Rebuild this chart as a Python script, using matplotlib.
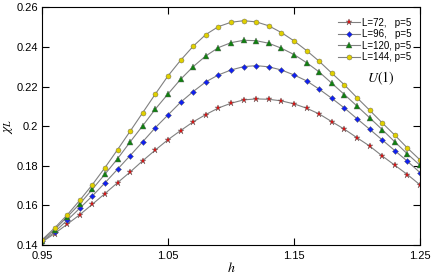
import numpy as np
import matplotlib
matplotlib.use('Agg')
import matplotlib.pyplot as plt

# data
h = [0.95, 0.96, 0.97, 0.98, 0.99, 1.00, 1.01, 1.02, 1.03, 1.04, 1.05,
     1.06, 1.07, 1.08, 1.09, 1.10, 1.11, 1.12, 1.13, 1.14, 1.15,
     1.16, 1.17, 1.18, 1.19, 1.20, 1.21, 1.22, 1.23, 1.24, 1.25]

chi_72 = [0.1415, 0.1458, 0.1505, 0.1553, 0.1606, 0.1660, 0.1715, 0.1769, 0.1826, 0.1880, 0.1932,
          0.1978, 0.2022, 0.2059, 0.2092, 0.2116, 0.2133, 0.2138, 0.2136, 0.2128, 0.2113,
          0.2091, 0.2062, 0.2023, 0.1985, 0.1942, 0.1900, 0.1850, 0.1803, 0.1756, 0.1704]
chi_96 = [0.1418, 0.1466, 0.1525, 0.1586, 0.1648, 0.1714, 0.1783, 0.1852, 0.1922, 0.1993, 0.2057,
          0.2121, 0.2175, 0.2224, 0.2259, 0.2284, 0.2301, 0.2306, 0.2300, 0.2284, 0.2259,
          0.2229, 0.2187, 0.2141, 0.2092, 0.2038, 0.1985, 0.1931, 0.1877, 0.1823, 0.1766]
chi_120 = [0.1422, 0.1478, 0.1542, 0.1608, 0.1682, 0.1758, 0.1836, 0.1921, 0.2003, 0.2087, 0.2163,
           0.2237, 0.2301, 0.2355, 0.2397, 0.2422, 0.2434, 0.2432, 0.2419, 0.2394, 0.2362,
           0.2321, 0.2274, 0.2217, 0.2160, 0.2102, 0.2043, 0.1983, 0.1921, 0.1860, 0.1803]
chi_144 = [0.1426, 0.1486, 0.1552, 0.1626, 0.1705, 0.1791, 0.1882, 0.1975, 0.2069, 0.2163, 0.2254,
           0.2333, 0.2404, 0.2463, 0.2503, 0.2525, 0.2533, 0.2527, 0.2507, 0.2473, 0.2431,
           0.2382, 0.2328, 0.2268, 0.2209, 0.2144, 0.2081, 0.2017, 0.1955, 0.1890, 0.1830]

labels = ['L=72,   p=5', 'L=96,   p=5', 'L=120, p=5', 'L=144, p=5']
xticks = [0.95, 1.05, 1.15, 1.25]
yticks = [0.14, 0.16, 0.18, 0.2, 0.22, 0.24, 0.26]
ytick_labels = ['0.14', '0.16', '0.18', '0.2', '0.22', '0.24', '0.26']

plt.rcParams['font.family'] = 'Liberation Sans'
plt.rcParams['mathtext.fontset'] = 'stix'
plt.rcParams['xtick.direction'] = 'in'
plt.rcParams['ytick.direction'] = 'in'

fig = plt.figure(figsize=(4.36, 2.75), dpi=100)
ax = fig.add_axes([0.0963, 0.109, 0.8670, 0.8640])

styles = [('*', '#e01010', 4.8), ('D', '#1020f0', 3.0), ('^', '#108010', 3.8), ('o', '#e0d000', 3.6)]
for y, lab, (m, c, ms) in zip([chi_72, chi_96, chi_120, chi_144], labels, styles):
    ax.plot(h, y, color='#808080', lw=0.8, marker=m, markersize=ms,
            markerfacecolor=c, markeredgecolor='#606060', markeredgewidth=0.3, label=lab)

ax.set_xlim(0.95, 1.25)
ax.set_ylim(0.14, 0.26)
ax.set_xticks(xticks)
ax.set_xticklabels(['0.95', '1.05', '1.15', '1.25'])
ax.set_yticks(yticks)
ax.set_yticklabels(ytick_labels)
ax.tick_params(top=True, right=True, labelsize=8, length=5, width=0.8)
ax.tick_params(axis='x', pad=4)
ax.tick_params(axis='y', pad=3)
for s in ax.spines.values():
    s.set_linewidth(0.8)

ax.set_xlabel('$h$', fontsize=10, labelpad=0)
ax.set_ylabel('$\\chi_L$', fontsize=10, labelpad=1)

ax.legend(loc='upper right', frameon=False, fontsize=7, handlelength=2.2,
          handletextpad=0.2, labelspacing=0.15, borderaxespad=0.3,
          bbox_to_anchor=(0.995, 0.985))
ax.text(1.208, 0.2244, '$U(1)$', fontsize=10, va='center')

fig.savefig('out.png', dpi=100)
